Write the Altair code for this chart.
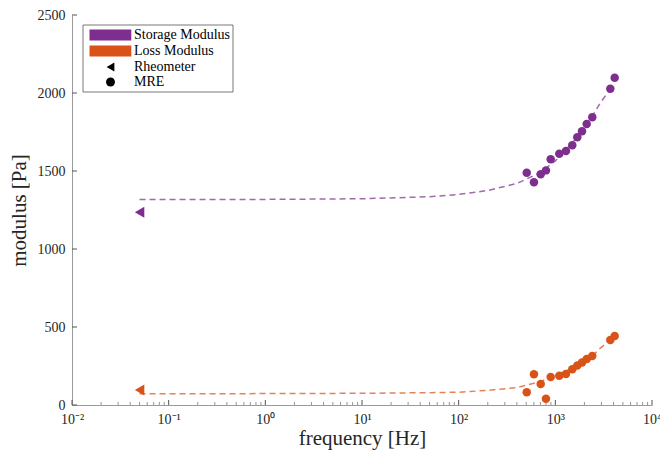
import altair as alt
import pandas as pd

# ---------------- data ----------------
series_names = ["Storage Modulus", "Loss Modulus"]
source_names = ["Rheometer", "MRE"]
series_colors = ["#7E2F8E", "#D95319"]

mre_freq = [506, 601, 706, 800, 895, 1099, 1288, 1497, 1687, 1888, 2110, 2411, 3705, 4110]
mre_storage = [1489, 1428, 1479, 1504, 1575, 1611, 1628, 1665, 1716, 1755, 1801, 1844, 2028, 2098]
mre_loss = [81, 197, 135, 40, 179, 188, 199, 229, 253, 272, 295, 314, 417, 442]

rheo_freq = [0.05]
rheo_storage = [1235]
rheo_loss = [96]

fit_freq = [0.05, 1, 10, 50, 100, 200, 400, 700, 1000, 1600, 2300, 2900, 3700]
fit_storage = [1317, 1318, 1322, 1335, 1350, 1375, 1420, 1490, 1565, 1700, 1830, 1934, 2025]
fit_loss = [72, 73, 75, 79, 82, 94, 112, 150, 190, 244, 300, 363, 417]

x_major = [0.01, 0.1, 1, 10, 100, 1000, 10000]
x_labels = ["10⁻²", "10⁻¹", "10⁰", "10¹", "10²", "10³", "10⁴"]
x_minor = [k * d for d in [0.01, 0.1, 1, 10, 100, 1000] for k in range(2, 10)]
y_ticks = [0, 500, 1000, 1500, 2000, 2500]

# ---------------- tables ----------------
pts = []
for f, s, l in zip(rheo_freq, rheo_storage, rheo_loss):
    pts.append({"freq": f, "modulus": s, "series": series_names[0], "source": "Rheometer"})
    pts.append({"freq": f, "modulus": l, "series": series_names[1], "source": "Rheometer"})
for f, s, l in zip(mre_freq, mre_storage, mre_loss):
    pts.append({"freq": f, "modulus": s, "series": series_names[0], "source": "MRE"})
    pts.append({"freq": f, "modulus": l, "series": series_names[1], "source": "MRE"})
pts_df = pd.DataFrame(pts)

fit_rows = []
for f, s in zip(fit_freq, fit_storage):
    fit_rows.append({"freq": f, "modulus": s, "curve": series_names[0]})
for f, l in zip(fit_freq, fit_loss):
    fit_rows.append({"freq": f, "modulus": l, "curve": series_names[1]})
fit_df = pd.DataFrame(fit_rows)

major_df = pd.DataFrame({"freq": x_major})
minor_df = pd.DataFrame({"freq": x_minor})
ytick_df = pd.DataFrame({"modulus": y_ticks})
box_df = pd.DataFrame({"a": [0]})

SERIF = "Liberation Serif"
TXT = "#262626"

xscale = alt.Scale(type="log", domain=[0.01, 10000], nice=False)
yscale = alt.Scale(domain=[0, 2500], nice=False, zero=False)

label_arr = "[" + ",".join("'" + s + "'" for s in x_labels) + "]"
xaxis = alt.Axis(
    values=x_major,
    labelExpr=label_arr + "[round(log(datum.value)/LN10)+2]",
    title="frequency [Hz]",
    grid=False,
    tickSize=0,
    labelPadding=7,
    titlePadding=1,
    domainColor="#9a9a9a",
    labelFlush=False,
    labelOverlap=False,
)
yaxis = alt.Axis(
    values=y_ticks,
    format="d",
    title="modulus [Pa]",
    grid=False,
    tickSize=0,
    labelPadding=7,
    titlePadding=8,
    domainColor="#9a9a9a",
    labelFlush=False,
)


def X(field="freq"):
    return alt.X(field, type="quantitative", scale=xscale, axis=xaxis)


def Y(field="modulus"):
    return alt.Y(field, type="quantitative", scale=yscale, axis=yaxis)


color_enc = alt.Color(
    "series:N",
    scale=alt.Scale(domain=series_names, range=series_colors),
    legend=alt.Legend(
        orient="none",
        legendX=16,
        legendY=13,
        title=None,
        symbolType="M-1,-1H6.6V1H-1Z",
        symbolSize=121,
        symbolStrokeWidth=0,
        symbolOpacity=1,
        labelOffset=32,
        rowPadding=2,
        padding=0,
    ),
)
shape_enc = alt.Shape(
    "source:N",
    scale=alt.Scale(domain=source_names, range=["triangle-left", "circle"]),
    legend=alt.Legend(
        orient="none",
        legendX=31.5,
        legendY=45,
        title=None,
        symbolFillColor="black",
        symbolStrokeColor="black",
        symbolStrokeWidth=0,
        symbolSize=80,
        symbolOpacity=1,
        labelOffset=16.5,
        rowPadding=1,
        padding=0,
    ),
)

lines = alt.Chart(fit_df).mark_line(strokeDash=[6, 4], strokeWidth=1.5, opacity=0.72).encode(
    x=X(),
    y=Y(),
    stroke=alt.Stroke("curve:N", scale=alt.Scale(domain=series_names, range=series_colors), legend=None),
    detail="curve:N",
)

points = alt.Chart(pts_df).mark_point(filled=True, opacity=1, color="black").encode(
    x=X(),
    y=Y(),
    color=color_enc,
    shape=shape_enc,
    size=alt.condition("datum.source == 'Rheometer'", alt.value(120), alt.value(72)),
)

box = alt.Chart(box_df).mark_rect(fill="white", stroke="#555555", strokeWidth=0.8).encode(
    x=alt.value(11), x2=alt.value(161), y=alt.value(10), y2=alt.value(77)
)

major_ticks = alt.Chart(major_df).mark_rule(color="#555555", strokeWidth=1).encode(
    x=X(), y=alt.value(390), y2=alt.value(385)
)
minor_ticks = alt.Chart(minor_df).mark_rule(color="#777777", strokeWidth=0.8).encode(
    x=X(), y=alt.value(390), y2=alt.value(387)
)
y_tick_rules = alt.Chart(ytick_df).mark_rule(color="#555555", strokeWidth=1).encode(
    y=Y(), x=alt.value(0), x2=alt.value(5)
)

chart = alt.layer(box, minor_ticks, major_ticks, y_tick_rules, lines, points).resolve_scale(
    color="independent", stroke="independent"
).properties(
    width=580,
    height=390,
    autosize=alt.AutoSizeParams(type="none"),
    padding={"left": 72, "top": 15, "right": 8, "bottom": 49},
).configure_view(
    stroke=None
).configure_axis(
    labelFont=SERIF,
    labelFontSize=14,
    labelColor=TXT,
    titleFont=SERIF,
    titleFontSize=21,
    titleFontWeight="normal",
    titleColor=TXT,
).configure_legend(
    labelFont=SERIF,
    labelFontSize=14,
    labelColor="black",
)

chart.save("out.html", embed_options={"renderer": "svg", "actions": False})
